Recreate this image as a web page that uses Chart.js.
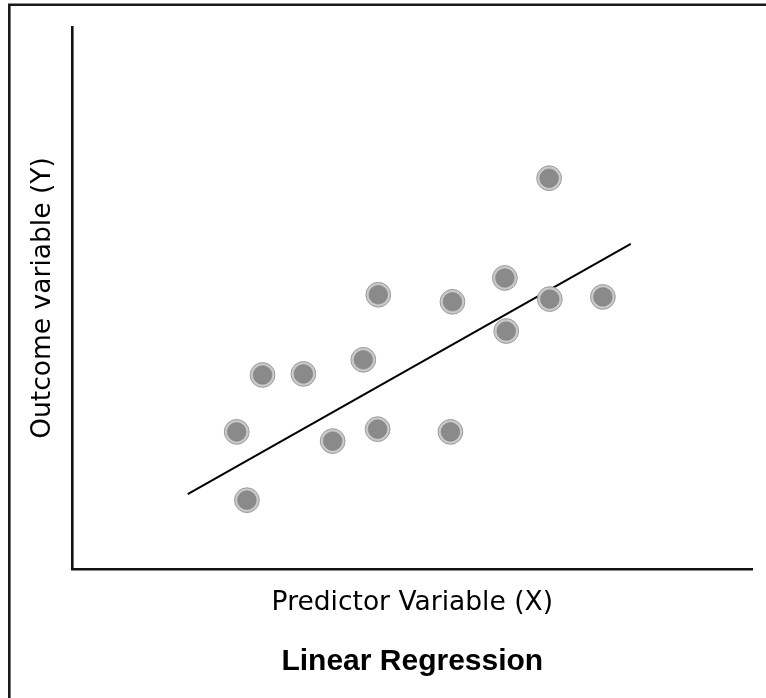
<!DOCTYPE html>
<html>
<head>
<meta charset="utf-8">
<script src="https://cdn.jsdelivr.net/npm/chart.js@4/dist/chart.umd.min.js"></script>
<style>
  html, body { margin: 0; padding: 0; background: #fff; }
  canvas { display: block; }
</style>
</head>
<body>
<canvas id="chartRegression" width="766" height="698"></canvas>
<script>
// Observations (predictor / outcome) on a 0-100 scale
const predictorX = [24.2, 25.7, 28.0, 34.0, 38.3, 42.8, 44.9, 45.0, 55.6, 55.9, 63.6, 63.8, 70.1, 70.2, 78.0];
const outcomeY   = [25.3, 12.7, 35.8, 36.0, 23.6, 38.6, 25.8, 50.6, 25.3, 49.3, 53.7, 43.9, 72.1, 49.8, 50.2];

// Fitted line end points
const fitX = [17.0, 82.1];
const fitY = [13.8, 60.0];

const axisMin = [0, 0];
const axisMax = [100, 100];

const points = predictorX.map((x, i) => ({ x: x, y: outcomeY[i] }));
const fitLine = fitX.map((x, i) => ({ x: x, y: fitY[i] }));

// cadre de l'image (haut et gauche)
const cadre = {
    id: 'cadre',
    afterLayout(chart) {
        // titre centré sous la zone de tracé
        if (chart.titleBlock) {
            chart.titleBlock.left = chart.chartArea.left;
            chart.titleBlock.right = chart.chartArea.right;
        }
    },
    afterDraw(chart) {
        const ctx = chart.ctx;
        ctx.save();
        ctx.strokeStyle = '#1a1a1a';
        ctx.lineWidth = 2.6;
        ctx.beginPath();
        ctx.moveTo(9.3, 698);
        ctx.lineTo(9.3, 4.7);
        ctx.lineTo(766, 4.7);
        ctx.stroke();
        ctx.restore();
    }
};

const axisFont = '"DejaVu Sans", "Liberation Sans", sans-serif';
const titleFont = '"Liberation Sans", Arial, sans-serif';

new Chart(document.getElementById('chartRegression'), {
    type: 'scatter',
    data: {
        datasets: [
            {
                type: 'line',
                label: 'Fit',
                data: fitLine,
                borderColor: '#000',
                borderWidth: 2,
                pointRadius: 0,
                fill: false,
                order: 3
            },
            {
                label: 'Edge',
                data: points,
                pointRadius: 12.4,
                backgroundColor: '#c9c9c9',
                borderColor: '#9c9c9c',
                borderWidth: 1,
                order: 2
            },
            {
                label: 'Observations',
                data: points,
                pointRadius: 9.3,
                backgroundColor: '#8a8a8a',
                borderColor: '#7e7e7e',
                borderWidth: 0.6,
                order: 1
            }
        ]
    },
    options: {
        responsive: false,
        animation: false,
        events: [],
        layout: { padding: { top: 27, left: 9, right: 12, bottom: 18 } },
        plugins: {
            legend: { display: false },
            tooltip: { enabled: false },
            title: {
                display: true,
                text: 'Linear Regression',
                position: 'bottom',
                color: '#000',
                font: { family: titleFont, size: 30, weight: 'bold', lineHeight: 1.2 },
                padding: { top: 25.4, bottom: 0 }
            }
        },
        scales: {
            x: {
                type: 'linear',
                min: axisMin[0],
                max: axisMax[0],
                grid: { display: false, drawTicks: false },
                border: { display: true, color: '#111', width: 2.6 },
                ticks: { display: false },
                title: {
                    display: true,
                    text: 'Predictor Variable (X)',
                    color: '#000',
                    font: { family: axisFont, size: 26.5, lineHeight: 1.2 },
                    padding: { top: 0, bottom: 0 }
                },
                afterFit(scale) { scale.height = 49.6; }
            },
            y: {
                type: 'linear',
                min: axisMin[1],
                max: axisMax[1],
                grid: { display: false, drawTicks: false },
                border: { display: true, color: '#111', width: 2.6 },
                ticks: { display: false },
                title: {
                    display: true,
                    text: 'Outcome variable (Y)',
                    color: '#000',
                    font: { family: axisFont, size: 26.5, lineHeight: 1.2 },
                    padding: { top: 18.2, bottom: 0 }
                },
                afterFit(scale) { scale.width = 63; }
            }
        }
    },
    plugins: [cadre]
});
</script>
</body>
</html>
